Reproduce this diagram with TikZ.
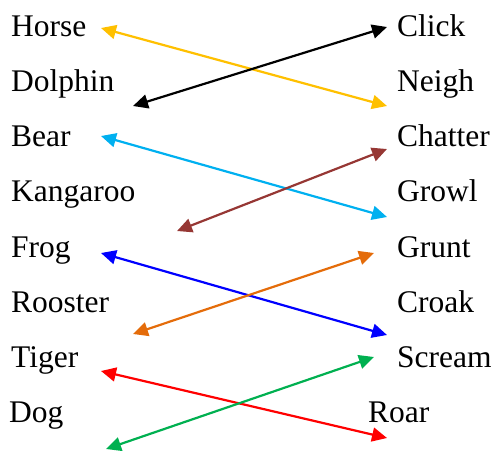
\documentclass[tikz,border=0pt]{standalone}
\usepackage{fontspec}
\setmainfont{Liberation Serif}
\usetikzlibrary{arrows.meta}
\definecolor{cYellow}{RGB}{255,192,0}
\definecolor{cSky}{RGB}{0,176,240}
\definecolor{cBrown}{RGB}{150,55,52}
\definecolor{cBlue}{RGB}{0,0,255}
\definecolor{cOrange}{RGB}{228,108,10}
\definecolor{cRed}{RGB}{255,0,0}
\definecolor{cGreen}{RGB}{0,176,80}
\tikzset{
  word/.style={anchor=base west, inner sep=0pt, font=\fontsize{31.5}{36}\selectfont},
  link/.style={line width=2.2pt, {Triangle[length=15pt,width=14pt]}-{Triangle[length=15pt,width=14pt]}}
}
\begin{document}
\begin{tikzpicture}[x=1pt,y=-1pt]
\useasboundingbox (0,0) rectangle (495,450);
% left column
\node[word] (horse) at (11,36) {Horse};
\node[word] (dolphin) at (11,91) {Dolphin};
\node[word] (bear) at (11,146) {Bear};
\node[word] (kangaroo) at (11,201) {Kangaroo};
\node[word] (frog) at (11,257) {Frog};
\node[word] (rooster) at (11,312) {Rooster};
\node[word] (tiger) at (11,367) {Tiger};
\node[word] (dog) at (9,422) {Dog};
% right column
\node[word] (click) at (397,36) {Click};
\node[word] (neigh) at (397,91) {Neigh};
\node[word] (chatter) at (397,146) {Chatter};
\node[word] (growl) at (397,201) {Growl};
\node[word] (grunt) at (397,257) {Grunt};
\node[word] (croak) at (397,312) {Croak};
\node[word] (scream) at (397,367) {Scream};
\node[word] (roar) at (368,422) {Roar};
% arrow ends
\coordinate (hL) at (101,28);   \coordinate (nR) at (387,106);
\coordinate (dL) at (133,106);  \coordinate (cR) at (387,27);
\coordinate (bL) at (101,136);  \coordinate (gR) at (387,217);
\coordinate (kL) at (177,231);  \coordinate (chR) at (387,149);
\coordinate (fL) at (101,253);  \coordinate (crR) at (387,335);
\coordinate (rL) at (133,334);  \coordinate (guR) at (374,253);
\coordinate (tL) at (101,371);  \coordinate (roR) at (387,438);
\coordinate (doL) at (106,449); \coordinate (sR) at (374,357);
% connectors
\draw[link, cYellow] (hL) -- (nR);
\draw[link, black] (dL) -- (cR);
\draw[link, cSky] (bL) -- (gR);
\draw[link, cBrown] (kL) -- (chR);
\draw[link, cBlue] (fL) -- (crR);
\draw[link, cOrange] (rL) -- (guR);
\draw[link, cRed] (tL) -- (roR);
\draw[link, cGreen] (doL) -- (sR);
\end{tikzpicture}
\end{document}
